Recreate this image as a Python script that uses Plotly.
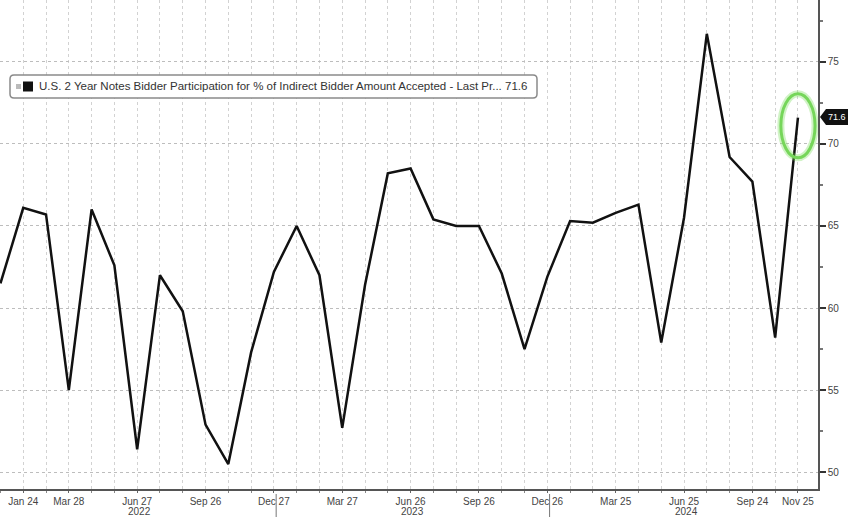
import plotly.graph_objects as go

# Data: monthly 2Y note auctions, Dec 2021 .. Nov 2024 (% indirect bidders)
months = ["Dec 2021", "Jan 2022", "Feb 2022", "Mar 2022", "Apr 2022", "May 2022", "Jun 2022",
          "Jul 2022", "Aug 2022", "Sep 2022", "Oct 2022", "Nov 2022", "Dec 2022",
          "Jan 2023", "Feb 2023", "Mar 2023", "Apr 2023", "May 2023", "Jun 2023",
          "Jul 2023", "Aug 2023", "Sep 2023", "Oct 2023", "Nov 2023", "Dec 2023",
          "Jan 2024", "Feb 2024", "Mar 2024", "Apr 2024", "May 2024", "Jun 2024",
          "Jul 2024", "Aug 2024", "Sep 2024", "Oct 2024", "Nov 2024"]
values = [61.5, 66.1, 65.7, 55.0, 66.0, 62.6, 51.4,
          62.0, 59.8, 52.9, 50.5, 57.3, 62.2,
          65.0, 62.0, 52.7, 61.4, 68.2, 68.5,
          65.4, 65.0, 65.0, 62.1, 57.5, 61.9,
          65.3, 65.2, 65.8, 66.3, 57.9, 65.5,
          76.7, 69.2, 67.7, 58.2, 71.6]
tick_idx = [1, 3, 6, 9, 12, 15, 18, 21, 24, 27, 30, 33, 35]
tick_text = ["Jan 24", "Mar 28", "Jun 27", "Sep 26", "Dec 27", "Mar 27", "Jun 26",
             "Sep 26", "Dec 26", "Mar 25", "Jun 25", "Sep 24", "Nov 25"]
years = ["2022", "2023", "2024"]
year_pos = [6.1, 18.1, 30.1]
year_breaks = [12.1, 24.1]
series_name = "U.S. 2 Year Notes Bidder Participation for % of Indirect Bidder Amount Accepted - Last Pr..."
last_val = values[-1]

W, H = 848, 517
ML, MR, MT, MB = 0, 30, 0, 28
PW, PH = W - ML - MR, H - MT - MB

def px(x):
    return (x - ML) / PW

def py(y):
    return 1 - (y - MT) / PH

x = list(range(len(values)))

fig = go.Figure()
fig.add_trace(go.Scatter(x=x, y=values, mode="lines",
                         line=dict(color="#111111", width=2.5), showlegend=False,
                         hoverinfo="skip"))

grid_col = "#d2d2d2"
fig.update_layout(
    width=W, height=H,
    margin=dict(l=ML, r=MR, t=MT, b=MB),
    paper_bgcolor="white", plot_bgcolor="white",
    font=dict(family="Liberation Sans, Arial, sans-serif", size=10, color="#444444"),
    xaxis=dict(range=[-0.02, 35.88], tickmode="array", tickvals=tick_idx, ticktext=tick_text,
               showgrid=True, gridcolor=grid_col, griddash="dot", gridwidth=1,
               ticks="outside", ticklen=2, tickcolor="#666666",
               showline=True, linecolor="#555555", linewidth=1.5,
               tickfont=dict(size=10, color="#444444"),
               minor=dict(dtick=1, tick0=0, showgrid=True, gridcolor=grid_col, griddash="dot",
                          ticks="outside", ticklen=2, tickcolor="#888888"),
               zeroline=False, fixedrange=True),
    yaxis=dict(range=[48.98, 78.76], side="right", dtick=5, tick0=50,
               showgrid=True, gridcolor="#bdbdbd", griddash="dot", gridwidth=1,
               ticks="outside", ticklen=6, tickwidth=2, tickcolor="#333333",
               showline=True, linecolor="#555555", linewidth=1.5,
               tickfont=dict(size=10, color="#444444"),
               minor=dict(dtick=2.5, ticks="outside", ticklen=3, tickcolor="#777777", showgrid=False),
               zeroline=False, fixedrange=True),
)

shapes = []
annotations = []

# Year separators and labels
for b in year_breaks:
    shapes.append(dict(type="line", xref="x", yref="paper", x0=b, x1=b,
                       y0=py(494), y1=py(517), line=dict(color="#777777", width=1)))
for yr, pos in zip(years, year_pos):
    annotations.append(dict(x=pos, y=py(511), xref="x", yref="paper", text=yr, showarrow=False,
                            font=dict(size=10, color="#444444"), xanchor="center", yanchor="middle"))

# Legend box
bx0, bx1, by0, by1, r = 10, 537, 75, 98, 4
path = (f"M {px(bx0 + r)} {py(by0)} L {px(bx1 - r)} {py(by0)} "
        f"Q {px(bx1)} {py(by0)} {px(bx1)} {py(by0 + r)} L {px(bx1)} {py(by1 - r)} "
        f"Q {px(bx1)} {py(by1)} {px(bx1 - r)} {py(by1)} L {px(bx0 + r)} {py(by1)} "
        f"Q {px(bx0)} {py(by1)} {px(bx0)} {py(by1 - r)} L {px(bx0)} {py(by0 + r)} "
        f"Q {px(bx0)} {py(by0)} {px(bx0 + r)} {py(by0)} Z")
shapes.append(dict(type="path", xref="paper", yref="paper", path=path,
                   fillcolor="white", line=dict(color="#8a8a8a", width=1.5), layer="above"))
shapes.append(dict(type="rect", xref="paper", yref="paper", x0=px(16), x1=px(21), y0=py(84), y1=py(89),
                   fillcolor="#bbbbbb", line=dict(width=0), layer="above"))
shapes.append(dict(type="rect", xref="paper", yref="paper", x0=px(23), x1=px(33), y0=py(81.5), y1=py(91.5),
                   fillcolor="#111111", line=dict(width=0), layer="above"))
annotations.append(dict(x=px(37), y=py(86.5), xref="paper", yref="paper",
                        text=f"{series_name} {last_val}", showarrow=False,
                        xanchor="left", yanchor="middle",
                        font=dict(size=11.5, color="#333333")))

# Last value tag on right axis
ty = 117
tag = (f"M {px(820)} {py(ty)} L {px(826)} {py(ty - 8)} L {px(848)} {py(ty - 8)} "
       f"L {px(848)} {py(ty + 8)} L {px(826)} {py(ty + 8)} Z")
shapes.append(dict(type="path", xref="paper", yref="paper", path=tag,
                   fillcolor="#111111", line=dict(width=0), layer="above"))
annotations.append(dict(x=px(837), y=py(ty), xref="paper", yref="paper", text=f"{last_val}",
                        showarrow=False, xanchor="center", yanchor="middle",
                        font=dict(size=9, color="white")))

# Green highlight ellipse around last point
shapes.append(dict(type="circle", xref="x", yref="y", x0=34.25, x1=35.75, y0=69.15, y1=73.05,
                   line=dict(color="rgba(120,220,90,0.35)", width=7), layer="above"))
shapes.append(dict(type="circle", xref="x", yref="y", x0=34.25, x1=35.75, y0=69.15, y1=73.05,
                   line=dict(color="#76d65a", width=3), layer="above"))

fig.update_layout(shapes=shapes, annotations=annotations)
fig.write_html("out.html", config={"displayModeBar": False},
               post_script="document.body.style.margin='0';document.body.style.overflow='hidden';")
